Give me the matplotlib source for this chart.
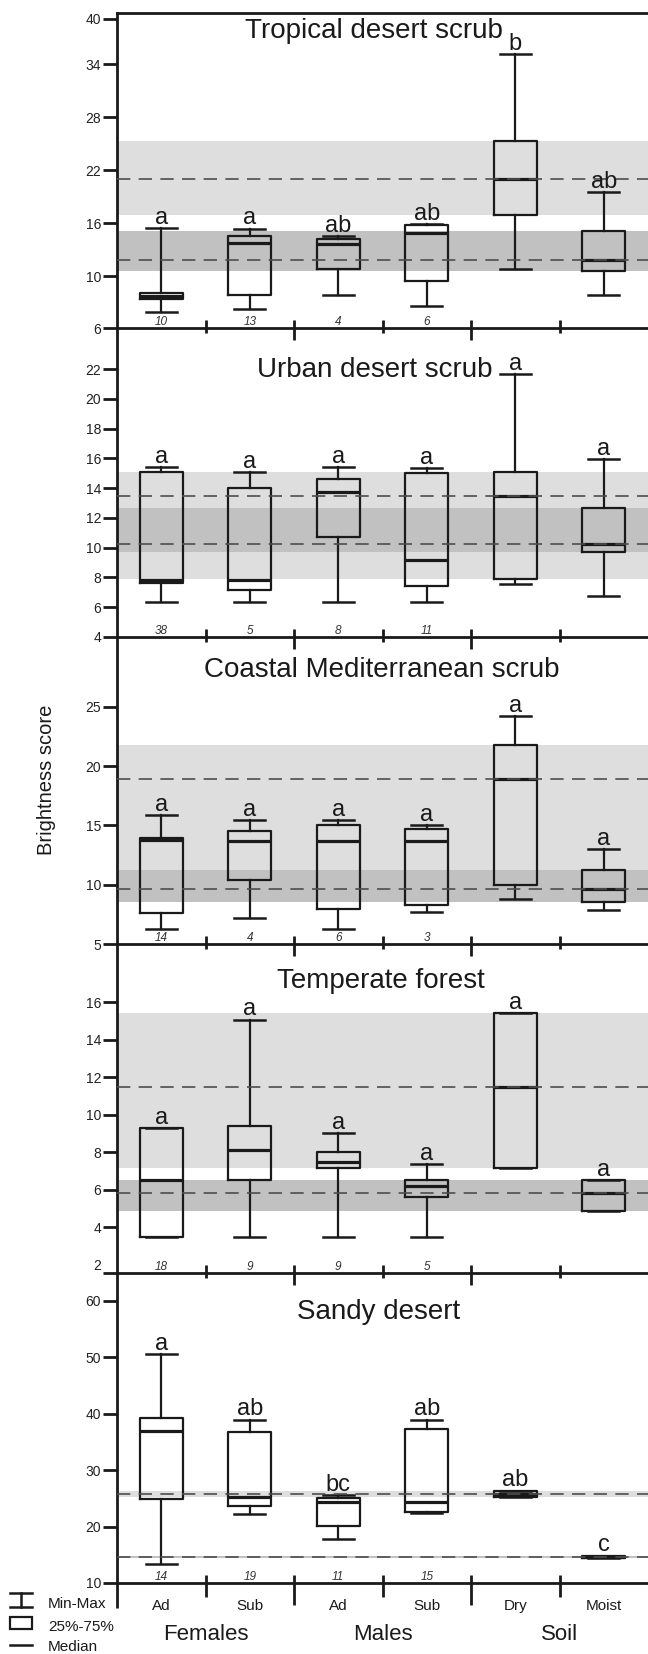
import numpy as np
import matplotlib
matplotlib.use("Agg")
import matplotlib.pyplot as plt
from matplotlib.patches import Rectangle
from matplotlib.transforms import blended_transform_factory

plt.rcParams['font.family'] = ['Liberation Sans', 'DejaVu Sans']

# ---------------- data ----------------
groups = ['Ad', 'Sub', 'Ad', 'Sub', 'Dry', 'Moist']
group_labels = ['Females', 'Males', 'Soil']
habitats = ['Tropical desert scrub', 'Urban desert scrub', 'Coastal Mediterranean scrub',
            'Temperate forest', 'Sandy desert']

# Tropical desert scrub
tds_min = [7.24, 7.47, 8.58, 7.73, 10.83, 8.53]
tds_q1 = [8.27, 8.58, 10.87, 9.61, 16.9, 10.57]
tds_med = [8.5, 13.77, 13.66, 14.9, 21.05, 11.81]
tds_q3 = [8.71, 14.57, 14.2, 15.77, 25.28, 15.17]
tds_max = [15.47, 15.4, 14.57, 15.92, 35.37, 19.5]
tds_letters = ['a', 'a', 'ab', 'ab', 'b', 'ab']
tds_n = ['10', '13', '4', '6', '', '']
tds_ticks = [6, 10, 16, 22, 28, 34, 40]

# Urban desert scrub
uds_min = [6.35, 6.35, 6.35, 6.35, 7.59, 6.76]
uds_q1 = [7.65, 7.14, 10.73, 7.41, 7.92, 9.72]
uds_med = [7.85, 7.81, 13.75, 9.2, 13.46, 10.28]
uds_q3 = [15.1, 14.04, 14.6, 15.03, 15.1, 12.68]
uds_max = [15.43, 15.1, 15.43, 15.37, 21.67, 15.95]
uds_letters = ['a', 'a', 'a', 'a', 'a', 'a']
uds_n = ['38', '5', '8', '11', '', '']
uds_ticks = [4, 6, 8, 10, 12, 14, 16, 18, 20, 22]

# Coastal Mediterranean scrub
cms_min = [6.27, 7.22, 6.27, 7.73, 8.83, 7.9]
cms_q1 = [7.62, 10.37, 7.98, 8.29, 10.0, 8.57]
cms_med = [13.75, 13.72, 13.72, 13.72, 18.92, 9.64]
cms_q3 = [13.95, 14.5, 15.04, 14.7, 21.79, 11.27]
cms_max = [15.89, 15.46, 15.46, 15.04, 24.2, 13.0]
cms_letters = ['a', 'a', 'a', 'a', 'a', 'a']
cms_n = ['14', '4', '6', '3', '', '']
cms_ticks = [5, 10, 15, 20, 25]

# Temperate forest
tf_min = [3.48, 3.47, 3.47, 3.47, 7.16, 4.9]
tf_q1 = [3.48, 6.5, 7.16, 5.62, 7.16, 4.9]
tf_med = [6.5, 8.12, 7.48, 6.22, 11.46, 5.83]
tf_q3 = [9.31, 9.38, 8.0, 6.52, 15.42, 6.5]
tf_max = [9.31, 15.07, 9.03, 7.37, 15.42, 6.5]
tf_letters = ['a', 'a', 'a', 'a', 'a', 'a']
tf_n = ['18', '9', '9', '5', '', '']
tf_ticks = [2, 4, 6, 8, 10, 12, 14, 16]

# Sandy desert
sd_min = [13.39, 22.24, 17.8, 22.36, 25.2, 14.45]
sd_q1 = [24.96, 23.72, 20.1, 22.6, 25.2, 14.45]
sd_med = [36.99, 25.3, 24.42, 24.37, 25.78, 14.69]
sd_q3 = [39.17, 36.7, 25.07, 37.29, 26.3, 14.87]
sd_max = [50.56, 38.94, 25.55, 38.94, 26.37, 14.87]
sd_letters = ['a', 'ab', 'bc', 'ab', 'ab', 'c']
sd_n = ['14', '19', '11', '15', '', '']
sd_ticks = [10, 20, 30, 40, 50, 60]

panels = [
    (tds_min, tds_q1, tds_med, tds_q3, tds_max, tds_letters, tds_n, tds_ticks),
    (uds_min, uds_q1, uds_med, uds_q3, uds_max, uds_letters, uds_n, uds_ticks),
    (cms_min, cms_q1, cms_med, cms_q3, cms_max, cms_letters, cms_n, cms_ticks),
    (tf_min, tf_q1, tf_med, tf_q3, tf_max, tf_letters, tf_n, tf_ticks),
    (sd_min, sd_q1, sd_med, sd_q3, sd_max, sd_letters, sd_n, sd_ticks),
]

# ---------------- layout ----------------
W, H = 648, 1654
panel_px = [(13, 328), (328, 637), (637, 944), (944, 1273), (1273, 1583)]
ylims = [(6, 40.75), (4, 24.76), (5, 30.9), (1.57, 19.1), (10, 64.9)]
title_x = [0.484, 0.486, 0.499, 0.497, 0.492]
title_off = [25, 49, 40, 44, 46]
left_px = 117

LIGHT = '#dedede'
DARK = '#c1c1c1'
INK = '#1a1a1a'
DASH = '#4d4d4d'


def fwd(y):
    y = np.asarray(y, dtype=float)
    return np.where(y < 10, 10 + (y - 10) * 1.46, np.where(y > 34, 34 + (y - 34) * 0.855, y))


def inv(u):
    u = np.asarray(u, dtype=float)
    return np.where(u < 10, 10 + (u - 10) / 1.46, np.where(u > 34, 34 + (u - 34) / 0.855, u))


fig = plt.figure(figsize=(W / 100, H / 100), dpi=100)
pos = np.arange(len(groups))

for p, (mn, q1, med, q3, mx, letters, ns, ticks) in enumerate(panels):
    top, bot = panel_px[p]
    hpx = bot - top
    ax = fig.add_axes([left_px / W, 1 - bot / H, (W - left_px) / W, hpx / H])
    ax.set_facecolor('none')
    if p == 0:
        ax.set_yscale('function', functions=(fwd, inv))
    ax.set_xlim(-0.5, 5.5)
    ax.set_ylim(*ylims[p])

    # reference bands from soil boxes (Dry = light, Moist = dark)
    ax.axhspan(q1[4], q3[4], color=LIGHT, lw=0, zorder=0)
    ax.axhspan(q1[5], q3[5], color=DARK, lw=0, zorder=0.5)

    stats = [dict(whislo=mn[i], q1=q1[i], med=med[i], q3=q3[i], whishi=mx[i], label=groups[i])
             for i in range(len(groups))]
    ax.bxp(stats, positions=pos, widths=0.49, capwidths=0.35, showfliers=False,
           manage_ticks=False,
           boxprops=dict(color=INK, lw=1.6),
           medianprops=dict(color=INK, lw=2.3),
           whiskerprops=dict(color=INK, lw=1.6),
           capprops=dict(color=INK, lw=1.8))

    ax.axhline(med[4], color=DASH, lw=1.2, ls=(0, (8, 5)), zorder=3)
    ax.axhline(med[5], color=DASH, lw=1.2, ls=(0, (8, 5)), zorder=3)

    for i in range(len(groups)):
        ax.annotate(letters[i], xy=(pos[i], mx[i]), xytext=(0, 3), textcoords='offset points',
                    ha='center', va='baseline', fontsize=17, color=INK)
    trans = blended_transform_factory(ax.transData, ax.transAxes)
    for i in range(len(groups)):
        if ns[i]:
            ax.annotate(ns[i], xy=(pos[i], 0), xycoords=trans, xytext=(0, 2),
                        textcoords='offset points', ha='center', va='baseline',
                        fontsize=8.5, style='italic', color='#333333')

    ax.text(title_x[p], 1 - title_off[p] / hpx, habitats[p], transform=ax.transAxes,
            ha='center', va='baseline', fontsize=20, color=INK)

    # spines
    for s in ['left', 'bottom', 'top']:
        ax.spines[s].set_linewidth(2)
        ax.spines[s].set_color(INK)
    ax.spines['right'].set_visible(False)
    if p > 0:
        ax.spines['top'].set_visible(False)

    # y ticks
    ax.set_yticks(ticks)
    ax.set_yticklabels([str(t) for t in ticks])
    ax.yaxis.set_minor_locator(matplotlib.ticker.NullLocator())
    ax.tick_params(axis='y', which='both', direction='out', length=10, width=2, pad=1.5,
                   labelsize=10, color=INK, labelcolor='#222222')
    if p == 3:
        ax.set_yticks([ylims[p][0]], minor=True)
        ax.yaxis.get_major_ticks()[0].tick1line.set_visible(False)

    # boundary ticks between categories
    bounds = pos[:-1] + 0.5
    if p < 4:
        below = [5, 12, 5, 12, 5]
    else:
        below = [14, 22, 14, 22, 14]
    for b, d in zip(bounds, below):
        ax.plot([b, b], [8 / hpx, -d / hpx], transform=trans, color=INK, lw=2,
                clip_on=False, solid_capstyle='butt', zorder=5)

    if p < 4:
        ax.set_xticks([])
    else:
        ax.set_xticks(pos)
        ax.set_xticklabels(groups)
        ax.tick_params(axis='x', which='major', length=0, pad=11.5, labelsize=11,
                       labelcolor=INK)
        for g, x in zip(group_labels, [0.5, 2.5, 4.5]):
            ax.annotate(g, xy=(x, 0), xycoords=trans, xytext=(0, -41),
                        textcoords='offset points', ha='center', va='baseline',
                        fontsize=16, color=INK)
        ax.plot([-0.5, -0.5], [0, -25 / hpx], transform=trans, color=INK, lw=2,
                clip_on=False, solid_capstyle='butt')

fig.text(47 / W, 1 - 780 / H, 'Brightness score', rotation=90, ha='center', va='center',
         fontsize=14.5, color=INK)

# legend key
lax = fig.add_axes([0, 0, 110 / W, 66 / H])
lax.set_xlim(0, 110)
lax.set_ylim(1654, 1588)
lax.axis('off')
lax.plot([10, 32], [1593, 1593], color=INK, lw=1.8)
lax.plot([21, 21], [1593, 1607], color=INK, lw=1.8)
lax.plot([10, 32], [1607, 1607], color=INK, lw=1.8)
lax.add_patch(Rectangle((10, 1617), 22, 12, fill=False, lw=1.6, ec=INK))
lax.plot([10, 32], [1645, 1645], color=INK, lw=1.8)
for txt, yb in [('Min-Max', 1608), ('25%-75%', 1631), ('Median', 1651)]:
    lax.text(48, yb, txt, ha='left', va='baseline', fontsize=11, color=INK, clip_on=False)

fig.savefig('out.png', dpi=100)
